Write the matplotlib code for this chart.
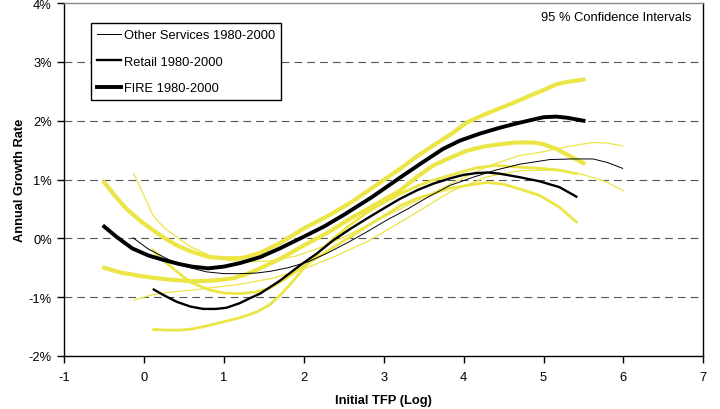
import matplotlib
matplotlib.use("Agg")
import matplotlib.pyplot as plt
from matplotlib.lines import Line2D
from matplotlib.ticker import FuncFormatter

plt.rcParams["font.family"] = ["Liberation Sans", "DejaVu Sans"]
plt.rcParams["axes.unicode_minus"] = False

# ── data (growth rate in %) ────────────────────────────────────
fire_x = [-0.5, -0.35, -0.15, 0.05, 0.25, 0.45, 0.6, 0.8, 1.0, 1.2, 1.45, 1.7, 2.0, 2.25,
          2.5, 2.85, 3.2, 3.45, 3.74, 3.95, 4.2, 4.45, 4.65, 4.87, 5.0, 5.16, 5.3, 5.5]
fire_y = [0.2, 0.03, -0.17, -0.29, -0.37, -0.44, -0.48, -0.51, -0.48, -0.42, -0.32, -0.17, 0.03, 0.2,
          0.4, 0.7, 1.03, 1.26, 1.52, 1.66, 1.78, 1.88, 1.95, 2.02, 2.06, 2.07, 2.05, 2.0]

fire_hi_x = [-0.5, -0.35, -0.22, -0.05, 0.11, 0.25, 0.41, 0.6, 0.82, 1.05, 1.24, 1.45, 1.7, 2.0,
             2.3, 2.6, 2.9, 3.2, 3.4, 3.62, 3.85, 4.04, 4.25, 4.45, 4.65, 4.87, 5.0, 5.16, 5.3, 5.5]
fire_hi_y = [0.95, 0.7, 0.5, 0.3, 0.14, 0.01, -0.12, -0.23, -0.32, -0.34, -0.33, -0.25, -0.08, 0.17,
             0.38, 0.62, 0.9, 1.18, 1.38, 1.58, 1.78, 1.97, 2.1, 2.21, 2.32, 2.45, 2.52, 2.62, 2.66, 2.7]

fire_lo_x = [-0.5, -0.3, 0.0, 0.3, 0.61, 0.85, 1.11, 1.3, 1.45, 1.7, 2.0, 2.3, 2.6, 2.9, 3.2,
             3.4, 3.62, 3.83, 4.04, 4.25, 4.45, 4.65, 4.87, 5.0, 5.16, 5.3, 5.5]
fire_lo_y = [-0.5, -0.58, -0.65, -0.7, -0.73, -0.72, -0.68, -0.6, -0.51, -0.35, -0.12, 0.1, 0.35, 0.58, 0.81,
             1.03, 1.24, 1.37, 1.49, 1.56, 1.6, 1.63, 1.63, 1.6, 1.52, 1.42, 1.28]

retail_x = [0.12, 0.25, 0.41, 0.58, 0.74, 0.9, 1.03, 1.2, 1.32, 1.45, 1.7, 1.95, 2.16, 2.37, 2.58,
            2.78, 3.0, 3.2, 3.42, 3.62, 3.83, 4.0, 4.16, 4.3, 4.45, 4.7, 4.95, 5.2, 5.41]
retail_y = [-0.87, -0.97, -1.08, -1.16, -1.2, -1.2, -1.18, -1.1, -1.02, -0.94, -0.72, -0.46, -0.26, -0.03, 0.16,
            0.33, 0.51, 0.67, 0.82, 0.93, 1.02, 1.08, 1.11, 1.12, 1.1, 1.04, 0.97, 0.87, 0.71]

retail_a_x = [0.11, 0.2, 0.36, 0.57, 0.82, 1.0, 1.2, 1.4, 1.57, 1.8, 2.0, 2.2, 2.37, 2.6, 2.78,
              3.0, 3.2, 3.42, 3.62, 3.83, 4.04, 4.29, 4.5, 4.7, 4.95, 5.2, 5.41]
retail_a_y = [-0.2, -0.33, -0.51, -0.74, -0.88, -0.93, -0.94, -0.91, -0.85, -0.66, -0.47, -0.3, -0.15, 0.04, 0.2,
              0.38, 0.55, 0.68, 0.76, 0.85, 0.9, 0.95, 0.92, 0.84, 0.73, 0.53, 0.28]

retail_b_x = [0.12, 0.3, 0.45, 0.6, 0.78, 0.99, 1.2, 1.41, 1.57, 1.7, 1.85, 2.0, 2.2, 2.37, 2.6, 2.78,
              3.0, 3.2, 3.42, 3.62, 3.83, 4.0, 4.16, 4.4, 4.7, 4.95, 5.2, 5.41]
retail_b_y = [-1.55, -1.56, -1.56, -1.54, -1.49, -1.42, -1.35, -1.25, -1.13, -0.97, -0.75, -0.5, -0.22, 0.0, 0.25, 0.43,
              0.61, 0.75, 0.89, 0.99, 1.07, 1.14, 1.2, 1.24, 1.21, 1.19, 1.16, 1.1]

other_x = [-0.14, 0.05, 0.32, 0.55, 0.78, 1.0, 1.2, 1.4, 1.58, 1.8, 2.05, 2.28, 2.55, 2.8, 3.05,
           3.3, 3.55, 3.83, 4.12, 4.4, 4.7, 5.08, 5.35, 5.62, 5.8, 5.99]
other_y = [0.01, -0.18, -0.37, -0.49, -0.57, -0.6, -0.6, -0.59, -0.56, -0.5, -0.4, -0.26, -0.07, 0.12, 0.32,
           0.5, 0.7, 0.9, 1.04, 1.16, 1.26, 1.34, 1.35, 1.35, 1.29, 1.19]

other_hi_x = [-0.13, 0.0, 0.11, 0.25, 0.43, 0.59, 0.82, 1.05, 1.3, 1.6, 1.9, 2.2, 2.5, 2.8, 3.1,
              3.4, 3.83, 4.1, 4.33, 4.7, 4.95, 5.3, 5.62, 5.8, 5.99]
other_hi_y = [1.1, 0.72, 0.39, 0.18, 0.0, -0.15, -0.29, -0.37, -0.4, -0.38, -0.3, -0.16, 0.02, 0.22, 0.43,
              0.63, 0.92, 1.1, 1.24, 1.41, 1.46, 1.56, 1.63, 1.62, 1.57]

other_lo_x = [-0.13, 0.1, 0.35, 0.6, 0.9, 1.2, 1.6, 2.0, 2.4, 2.8, 3.3, 3.83, 4.3, 4.7, 5.12,
              5.45, 5.75, 6.0]
other_lo_y = [-1.05, -0.96, -0.91, -0.88, -0.83, -0.78, -0.68, -0.52, -0.3, -0.05, 0.35, 0.79, 1.05, 1.15, 1.16,
              1.1, 0.98, 0.81]

x_ticks = [-1, 0, 1, 2, 3, 4, 5, 6, 7]
y_ticks = [-2, -1, 0, 1, 2, 3, 4]
grid_levels = [-1, 0, 1, 2, 3]

YEL = "#ECE546"
FS = 9.3

fig = plt.figure(figsize=(7.2, 4.1), dpi=100)
ax = fig.add_axes([0.0893, 0.1293, 0.8875, 0.8607])

for g in grid_levels:
    ax.axhline(g, color="#555555", lw=0.8, ls=(0, (7, 4.5)), zorder=1)

# confidence bands (yellow)
ax.plot(fire_hi_x, fire_hi_y, color=YEL, lw=3.0, solid_joinstyle="round", zorder=2)
ax.plot(fire_lo_x, fire_lo_y, color=YEL, lw=3.0, solid_joinstyle="round", zorder=2)
ax.plot(retail_a_x, retail_a_y, color=YEL, lw=2.0, solid_joinstyle="round", zorder=2)
ax.plot(retail_b_x, retail_b_y, color=YEL, lw=2.0, solid_joinstyle="round", zorder=2)
ax.plot(other_hi_x, other_hi_y, color=YEL, lw=0.9, zorder=2)
ax.plot(other_lo_x, other_lo_y, color=YEL, lw=0.9, zorder=2)

# point estimates (black)
ax.plot(other_x, other_y, color="black", lw=0.7, zorder=3)
ax.plot(retail_x, retail_y, color="black", lw=1.7, solid_joinstyle="round", zorder=3)
ax.plot(fire_x, fire_y, color="black", lw=2.8, solid_joinstyle="round", zorder=3)

ax.set_xlim(-1, 7)
ax.set_ylim(-2, 4)
ax.set_xticks(x_ticks)
ax.set_yticks(y_ticks)
ax.yaxis.set_major_formatter(FuncFormatter(lambda v, p: f"{int(v)}%"))
ax.tick_params(direction="out", length=5, width=1, labelsize=FS, colors="black", pad=4)
ax.tick_params(axis="x", pad=5.5)

for s in ["left", "bottom", "right"]:
    ax.spines[s].set_color("black")
    ax.spines[s].set_linewidth(1)
ax.spines["top"].set_color("#888888")
ax.spines["top"].set_linewidth(1)

ax.set_xlabel("Initial TFP (Log)", fontsize=FS, fontweight="bold", labelpad=8.5)
ax.set_ylabel("Annual Growth Rate", fontsize=FS, fontweight="bold", labelpad=2)

ax.text(0.981, 0.96, "95 % Confidence Intervals", transform=ax.transAxes,
        ha="right", va="center", fontsize=FS)

handles = [Line2D([], [], color="black", lw=0.7),
           Line2D([], [], color="black", lw=1.7),
           Line2D([], [], color="black", lw=2.8)]
labels = ["Other Services 1980-2000", "Retail 1980-2000", "FIRE 1980-2000"]
leg = ax.legend(handles, labels, loc="upper left", bbox_to_anchor=(0.0418, 0.943),
                fontsize=FS, frameon=True, fancybox=False, framealpha=1,
                edgecolor="black", handlelength=1.86, handletextpad=0.23,
                labelspacing=1.12, borderpad=0.45, borderaxespad=0)
leg.get_frame().set_linewidth(1)

fig.savefig("out.png", dpi=100)
